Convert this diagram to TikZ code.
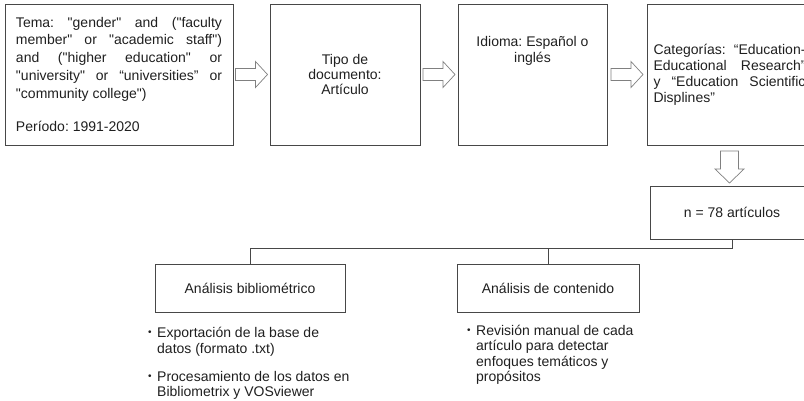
\documentclass[tikz,border=0pt]{standalone}
\usepackage{fontspec}
\setmainfont{Liberation Sans}[Ligatures=TeXOff]
\usetikzlibrary{calc}
\frenchspacing

\tikzset{
  box/.style={draw=black!72, line width=0.8pt, inner sep=0pt, text=black!88,
    font=\fontsize{14}{15.5}\selectfont},
  hollow/.style={draw=black!50, line width=0.7pt, fill=white},
  notes/.style={anchor=north west, inner sep=0pt, align=left, text=black!88,
    font=\fontsize{14}{15.5}\selectfont},
  tree/.style={draw=black!72, line width=0.8pt},
}

\begin{document}
\begin{tikzpicture}[x=1pt, y=-1pt]
  \newcommand{\HollowRight}[1]{%
    \draw[hollow, shift={(#1)}] (-16,-6) -- (4,-6) -- (4,-13) -- (16,0) -- (4,13) -- (4,6) -- (-16,6) -- cycle;%
  }
  \newcommand{\HollowDown}[1]{%
    \draw[hollow, shift={(#1)}] (-9,-16) -- (9,-16) -- (9,2) -- (14.5,2) -- (0,16) -- (-14.5,2) -- (-9,2) -- cycle;%
  }
  \newcommand{\Bul}{\makebox[9pt][l]{\fontsize{10}{10}\selectfont\raisebox{2pt}{•}}}
  \useasboundingbox (0,0) rectangle (804,400);
  \clip (0,0) rectangle (804,400);

  % top row of filters
  \node[box, minimum width=228, minimum height=141, text width=206, align=justify,
    font=\fontsize{14}{17.7}\selectfont] (tema) at (119,74.5)
    {Tema: "gender" and ("faculty\linebreak member" or "academic staff")\linebreak
     and ("higher education" or\linebreak "university" or “universities” or\linebreak
     "community college")\\[16pt]Período: 1991-2020};
  \node[box, minimum width=150, minimum height=141, align=center,
    font=\fontsize{14}{15.3}\selectfont] (tipo) at (345,74.5)
    {Tipo de\\documento:\\Artículo};
  \node[box, minimum width=149, minimum height=141] (idioma) at (532.5,74.5)
    {\parbox[c][77pt][t]{140pt}{\centering\fontsize{14}{16}\selectfont Idioma: Español o\\inglés}};
  \node[box, minimum width=165, minimum height=141, text width=152, align=justify,
    font=\fontsize{14}{16}\selectfont] (categ) at (729.5,74.5)
    {Categorías: “Education-\linebreak Educational Research”\linebreak
     y “Education Scientific\linebreak Displines”};

  % result
  \node[box, minimum width=164, minimum height=53] (total) at (732,212.5) {n = 78 artículos};

  % the two analyses
  \node[box, minimum width=190, minimum height=48] (biblio) at (250,288) {Análisis bibliométrico};
  \node[box, minimum width=182, minimum height=48] (conten) at (548,288) {Análisis de contenido};

  \node[notes] (biblist) at (148,327)
    {\Bul Exportación de la base de\\\hspace*{9pt}datos (formato .txt)\\[12.5pt]
     \Bul Procesamiento de los datos en\\\hspace*{9pt}Bibliometrix y VOSviewer};
  \node[notes, font=\fontsize{14}{15.3}\selectfont] (contlist) at (467,325)
    {\Bul Revisión manual de cada\\\hspace*{9pt}artículo para detectar\\
     \hspace*{9pt}enfoques temáticos y\\\hspace*{9pt}propósitos};

  % connectors
  \path (tema.east) -- (tipo.west) coordinate[midway] (a1);
  \path (tipo.east) -- (idioma.west) coordinate[midway] (a2);
  \path (idioma.east) -- (categ.west) coordinate[midway] (a3);
  \HollowRight{a1}
  \HollowRight{a2}
  \HollowRight{a3}
  \coordinate (a4) at (729.5,167);
  \HollowDown{a4}

  \coordinate (split) at ($(total.south)+(0,9)$);
  \draw[tree] (total.south) -- (split) -| (biblio.north);
  \draw[tree] (split) -| (conten.north);
\end{tikzpicture}
\end{document}
